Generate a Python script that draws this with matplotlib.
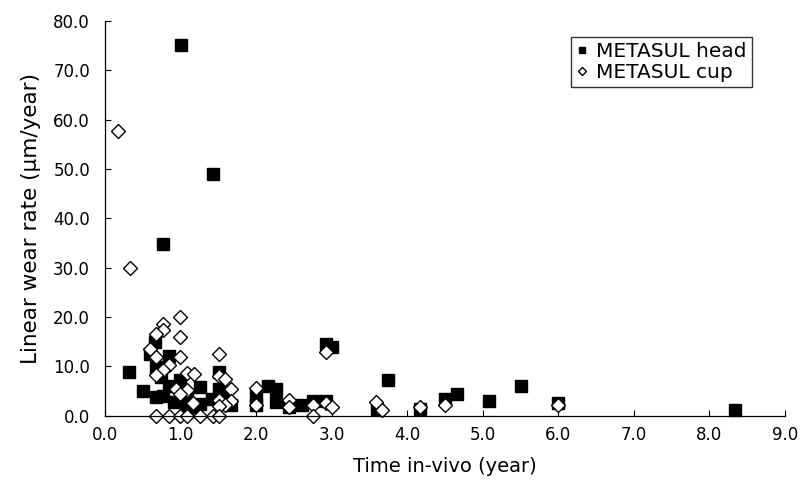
import matplotlib
matplotlib.use("Agg")
import matplotlib.pyplot as plt

plt.rcParams['font.family'] = ['DejaVu Sans']

# METASUL head (filled squares)
head_time = [1.0, 1.42, 0.76, 0.32, 0.5, 0.66, 0.59, 0.84, 0.67, 0.74, 0.67, 0.76,
             0.84, 0.91, 0.99, 1.0, 1.08, 1.08, 1.16, 1.25, 1.25, 1.41, 1.5, 1.5,
             1.58, 1.67, 2.0, 2.0, 2.16, 2.26, 2.26, 2.43, 2.6, 2.75, 2.92, 3.0,
             2.92, 3.6, 3.75, 4.17, 4.5, 4.66, 5.08, 5.5, 6.0, 8.34]
head_wear = [75.1, 48.9, 34.9, 8.8, 5.1, 14.9, 12.6, 12.2, 9.9, 7.8, 3.8, 4.1,
             6.1, 2.8, 7.2, 4.8, 3.8, 1.5, 1.8, 5.8, 2.4, 3.4, 8.8, 5.5,
             4.5, 2.1, 4.1, 2.1, 6.1, 5.5, 2.8, 1.8, 2.1, 3.1, 14.6, 13.9,
             3.1, 1.4, 7.2, 1.4, 3.4, 4.5, 3.1, 6.0, 2.6, 1.1]

# METASUL cup (open diamonds)
cup_time = [0.17, 0.33, 0.99, 0.76, 0.76, 0.67, 0.99, 0.59, 0.99, 0.67, 1.51, 0.84,
            0.76, 0.67, 1.08, 1.18, 1.51, 1.58, 1.67, 0.93, 1.08, 0.99, 1.51, 1.67,
            1.16, 1.58, 1.5, 0.67, 0.84, 0.99, 1.08, 1.25, 1.42, 1.5,
            2.0, 2.0, 2.43, 2.43, 2.75, 2.75, 2.92, 2.92, 3.0, 3.58, 3.66, 4.17,
            4.5, 6.0]
cup_wear = [57.6, 30.0, 20.0, 18.6, 17.3, 16.6, 15.9, 13.6, 12.0, 12.0, 12.6, 10.2,
            9.3, 8.2, 8.6, 8.4, 8.0, 7.5, 5.4, 5.4, 5.3, 4.5, 3.2, 3.1,
            2.6, 2.1, 1.9, 0.0, 0.0, 0.0, 0.0, 0.0, 0.0, 0.0,
            5.7, 2.1, 3.2, 1.8, 2.3, 0.0, 2.6, 13.0, 1.8, 2.8, 1.1, 1.8,
            2.1, 2.1]

fig = plt.figure(figsize=(8.1, 4.83), dpi=100)
ax = fig.add_axes([0.13, 0.139, 0.839, 0.818])

ax.plot(head_time, head_wear, linestyle='none', marker='s', markersize=8,
        color='black', label='METASUL head', clip_on=False)
ax.plot(cup_time, cup_wear, linestyle='none', marker='D', markersize=7.2,
        markerfacecolor='white', markeredgecolor='black', markeredgewidth=1.0,
        label='METASUL cup', clip_on=False)

ax.set_xlim(0, 9)
ax.set_ylim(0, 80)
ax.set_xticks([i * 1.0 for i in range(10)])
ax.set_yticks([i * 10.0 for i in range(9)])
ax.xaxis.set_major_formatter(matplotlib.ticker.FormatStrFormatter('%.1f'))
ax.yaxis.set_major_formatter(matplotlib.ticker.FormatStrFormatter('%.1f'))
ax.tick_params(direction='in', length=4, labelsize=12)
ax.tick_params(axis='y', pad=11)
ax.tick_params(axis='x', pad=7)

for side in ['top', 'right']:
    ax.spines[side].set_visible(False)
for side in ['left', 'bottom']:
    ax.spines[side].set_linewidth(0.9)

ax.set_xlabel('Time in-vivo (year)', fontsize=14, labelpad=10)
ax.set_ylabel('Linear wear rate (\u00b5m/year)', fontsize=15.5, labelpad=9)

leg = ax.legend(loc='upper right', bbox_to_anchor=(0.951, 0.96), fontsize=14.5,
                frameon=True, fancybox=False, edgecolor='black',
                handlelength=0.6, handletextpad=0.4, borderpad=0.25,
                borderaxespad=0.0, labelspacing=0.1, markerscale=0.6)
leg.get_frame().set_linewidth(1.0)

fig.savefig('out.png', dpi=100)
